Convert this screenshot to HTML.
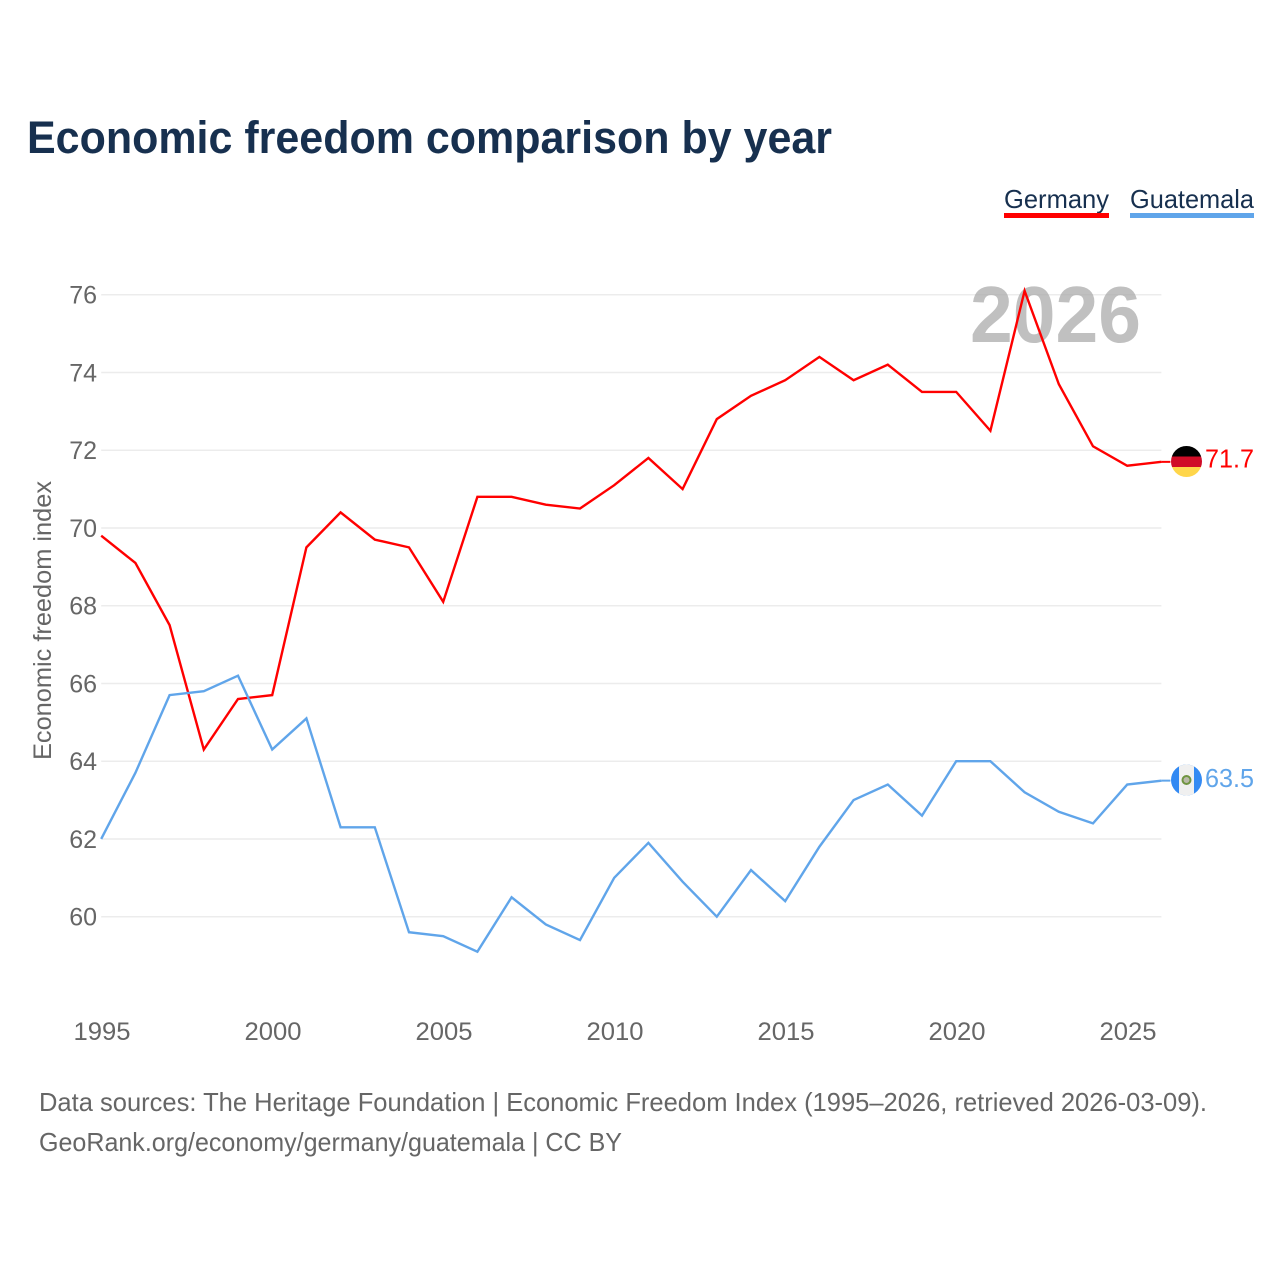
<!DOCTYPE html>
<html lang="en">
<head>
<meta charset="utf-8">
<title>Economic freedom comparison by year</title>
<style>
html,body{margin:0;padding:0;background:#fff;}
svg{display:block;font-family:"Liberation Sans",sans-serif;}
</style>
</head>
<body>
<svg id="chart" xmlns="http://www.w3.org/2000/svg" width="1280" height="1280" viewBox="0 0 1280 1280">
  <rect width="1280" height="1280" fill="#fff"/>
  <text x="27" y="153" font-size="45" font-weight="700" fill="#17304f" textLength="805" lengthAdjust="spacingAndGlyphs">Economic freedom comparison by year</text>

  <g>
    <text x="1004" y="208" font-size="26" fill="#17304f" textLength="105" lengthAdjust="spacingAndGlyphs">Germany</text>
    <rect x="1004" y="213" width="105" height="5" fill="#ff0000"/>
  </g>
  <g>
    <text x="1130" y="208" font-size="26" fill="#17304f" textLength="124" lengthAdjust="spacingAndGlyphs">Guatemala</text>
    <rect x="1130" y="213" width="124" height="5" fill="#60a5ea"/>
  </g>

  <g id="grid"></g>
  <text x="970" y="342" font-size="80" font-weight="700" fill="#a8a8a8" fill-opacity="0.72" textLength="171" lengthAdjust="spacingAndGlyphs">2026</text>
  <g id="yticks"></g>
  <g id="xticks"></g>
  <text transform="translate(51 620.5) rotate(-90)" text-anchor="middle" font-size="25" fill="#666" textLength="279" lengthAdjust="spacingAndGlyphs">Economic freedom index</text>

  <g id="series"></g>

  <defs>
    <clipPath id="flag-clip-de"><circle id="de-clip-circle" cx="1186.5" cy="461.5" r="15.5"/></clipPath>
    <clipPath id="flag-clip-gt"><circle id="gt-clip-circle" cx="1186.5" cy="780" r="15.5"/></clipPath>
  </defs>
  <g id="flag-germany" clip-path="url(#flag-clip-de)">
    <rect x="1170" y="445" width="33" height="11.5" fill="#000"/>
    <rect x="1170" y="456.5" width="33" height="10.5" fill="#d00c27"/>
    <rect x="1170" y="467" width="33" height="11" fill="#ffd64a"/>
  </g>
  <g id="flag-guatemala" clip-path="url(#flag-clip-gt)">
    <rect x="1170" y="764" width="33" height="32" fill="#338af3"/>
    <rect x="1179" y="764" width="15" height="32" fill="#f0f0f0"/>
    <circle cx="1186.5" cy="780" r="4" fill="#b9b9a8" stroke="#6f9440" stroke-width="2"/>
  </g>
  <text x="1205" y="467.5" font-size="26" fill="#ff0000" textLength="49" lengthAdjust="spacingAndGlyphs">71.7</text>
  <text x="1205" y="787" font-size="26" fill="#60a5ea" textLength="49" lengthAdjust="spacingAndGlyphs">63.5</text>

  <text x="39" y="1111" font-size="26" fill="#666" textLength="1168" lengthAdjust="spacingAndGlyphs">Data sources: The Heritage Foundation | Economic Freedom Index (1995–2026, retrieved 2026-03-09).</text>
  <text x="39" y="1151" font-size="26" fill="#666" textLength="583" lengthAdjust="spacingAndGlyphs">GeoRank.org/economy/germany/guatemala | CC BY</text>
</svg>
<script>
var years = [1995,1996,1997,1998,1999,2000,2001,2002,2003,2004,2005,2006,2007,2008,2009,2010,2011,2012,2013,2014,2015,2016,2017,2018,2019,2020,2021,2022,2023,2024,2025,2026];
var germany = [69.8,69.1,67.5,64.3,65.6,65.7,69.5,70.4,69.7,69.5,68.1,70.8,70.8,70.6,70.5,71.1,71.8,71.0,72.8,73.4,73.8,74.4,73.8,74.2,73.5,73.5,72.5,76.1,73.7,72.1,71.6,71.7];
var guatemala = [62.0,63.7,65.7,65.8,66.2,64.3,65.1,62.3,62.3,59.6,59.5,59.1,60.5,59.8,59.4,61.0,61.9,60.9,60.0,61.2,60.4,61.8,63.0,63.4,62.6,64.0,64.0,63.2,62.7,62.4,63.4,63.5];
var yTickLabels = [60,62,64,66,68,70,72,74,76];
var xTickLabels = [1995,2000,2005,2010,2015,2020,2025];

var NS = 'http://www.w3.org/2000/svg';
function xScale(year) { return 101.2 + (year - 1995) * 34.2; }
function yScale(value) { return 916.7 - (value - 60) * 38.875; }

var gridGroup = document.getElementById('grid');
var yGroup = document.getElementById('yticks');
var xGroup = document.getElementById('xticks');
var seriesGroup = document.getElementById('series');

yTickLabels.forEach(function (t) {
  var line = document.createElementNS(NS, 'line');
  
  
  line.setAttribute('x1', xScale(1995));
  line.setAttribute('x2', xScale(2026));
  line.setAttribute('y1', yScale(t));
  line.setAttribute('y2', yScale(t));
  line.setAttribute('stroke', '#ececec');
  line.setAttribute('stroke-width', '1.5');
  gridGroup.appendChild(line);

  var label = document.createElementNS(NS, 'text');
  
  
  label.setAttribute('x', 97);
  label.setAttribute('y', yScale(t) + 9);
  label.setAttribute('text-anchor', 'end');
  label.setAttribute('font-size', '25');
  label.setAttribute('fill', '#666');
  label.textContent = t;
  yGroup.appendChild(label);
});

xTickLabels.forEach(function (t) {
  var label = document.createElementNS(NS, 'text');
  
  
  label.setAttribute('x', xScale(t) + 0.8);
  label.setAttribute('y', 1040);
  label.setAttribute('text-anchor', 'middle');
  label.setAttribute('font-size', '25');
  label.setAttribute('fill', '#666');
  label.setAttribute('textLength', '57');
  label.setAttribute('lengthAdjust', 'spacingAndGlyphs');
  label.textContent = t;
  xGroup.appendChild(label);
});

function drawSeries(values, color, name) {
  var pts = values.map(function (v, i) {
    return xScale(years[i]).toFixed(2) + ',' + yScale(v).toFixed(2);
  });
  var path = document.createElementNS(NS, 'polyline');
  
  
  path.setAttribute('points', pts.join(' '));
  path.setAttribute('fill', 'none');
  path.setAttribute('stroke', color);
  path.setAttribute('stroke-width', '2.4');
  path.setAttribute('stroke-linejoin', 'miter');
  seriesGroup.appendChild(path);

  var last = values[values.length - 1];
  var lastX = xScale(years[years.length - 1]);
  var conn = document.createElementNS(NS, 'line');
  
  
  conn.setAttribute('x1', lastX);
  conn.setAttribute('x2', lastX + 9);
  conn.setAttribute('y1', yScale(last));
  conn.setAttribute('y2', yScale(last));
  conn.setAttribute('stroke', color);
  conn.setAttribute('stroke-width', '2');
  seriesGroup.appendChild(conn);
}
drawSeries(germany, '#ff0000', 'germany');
drawSeries(guatemala, '#60a5ea', 'guatemala');
</script>
</body>
</html>
